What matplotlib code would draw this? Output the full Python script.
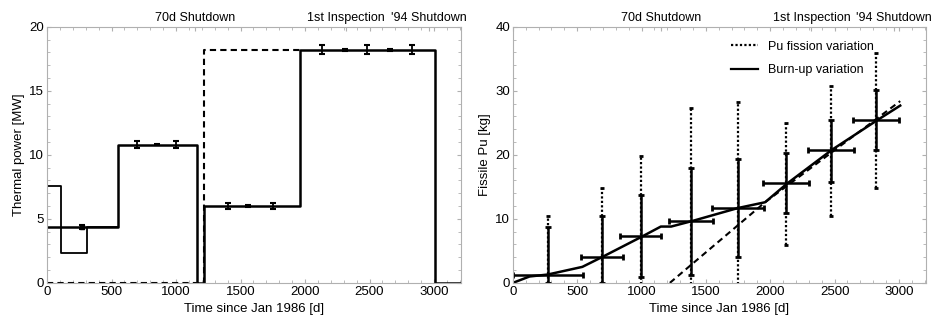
import numpy as np
import matplotlib
matplotlib.use("Agg")
import matplotlib.pyplot as plt
from matplotlib.lines import Line2D

plt.rcParams['font.family'] = ['Liberation Sans', 'DejaVu Sans']
plt.rcParams['font.size'] = 9

# left panel: thermal power history
power_x = [0, 550, 1160, 1220, 1960, 3010, 3200]
power_y = [4.4, 10.8, 0, 6.0, 18.2, 0, 0]
early_x = [0, 110, 310, 550]
early_y = [7.6, 2.3, 4.4, 4.4]
alt_x = [0, 1220, 1960]
alt_y = [0, 18.2, 18.2]

perr_x = [270, 700, 850, 1000, 1400, 1560, 1750, 2130, 2310, 2480, 2660, 2830]
perr_y = [4.35, 10.8, 10.8, 10.8, 6.0, 6.0, 6.0, 18.2, 18.2, 18.2, 18.2, 18.2]
perr_e = [0.15, 0.3, 0.05, 0.3, 0.25, 0.05, 0.25, 0.35, 0.05, 0.35, 0.05, 0.35]

# right panel: fissile Pu
burnup_x = [0, 130, 270, 540, 700, 1000, 1150, 1230, 1400, 1750, 1960, 2130, 2480, 2830, 3010]
burnup_y = [0, 1.0, 1.3, 2.5, 4.1, 7.2, 8.8, 8.8, 9.7, 11.7, 12.6, 15.5, 20.8, 25.4, 27.7]
fission_x = [1220, 1960, 3010]
fission_y = [0, 12.6, 28.4]

pu_x = [270, 692, 995, 1385, 1748, 2122, 2472, 2820]
pu_y = [1.25, 4.1, 7.25, 9.7, 11.7, 15.6, 20.8, 25.5]
pu_xlo = [0, 530, 835, 1215, 1545, 1945, 2295, 2640]
pu_xhi = [545, 855, 1155, 1555, 1950, 2300, 2650, 3000]
pu_ylo = [0, 0, 0.9, 1.2, 4.1, 10.9, 15.8, 20.7]
pu_yhi = [8.8, 10.4, 13.7, 17.9, 19.3, 20.3, 25.5, 30.2]
fis_ylo = [0, 0, -3, -3, -3, 5.9, 10.4, 14.9]
fis_yhi = [10.5, 14.8, 19.8, 27.3, 28.2, 25.0, 30.8, 35.9]

events_x = [1150, 2320, 2960]
events = ["70d Shutdown", "1st Inspection", "'94 Shutdown"]

fig = plt.figure(figsize=(9.41, 3.2), dpi=100)
ax1 = fig.add_axes([0.050, 0.116, 0.440, 0.800])
ax2 = fig.add_axes([0.545, 0.116, 0.439, 0.800])


def style(ax, ymax, ymin_step):
    ax.set_xlim(0, 3210)
    ax.set_ylim(0, ymax)
    ax.set_xticks([0, 500, 1000, 1500, 2000, 2500, 3000])
    ax.set_yticks(np.arange(0, ymax + 1, ymax / 4))
    ax.set_yticks(np.arange(0, ymax, ymin_step), minor=True)
    ax.set_xticks(np.arange(0, 3201, 100), minor=True)
    for s in ax.spines.values():
        s.set_color('#b0b0b0')
        s.set_linewidth(0.8)
    ax.tick_params(which='both', direction='in', top=True, right=True,
                   color='#b0b0b0', labelsize=9.5, pad=2)
    ax.tick_params(which='major', length=3)
    ax.tick_params(which='minor', length=2)
    ax.set_xlabel("Time since Jan 1986 [d]", fontsize=9.5, labelpad=4)
    top = ax.secondary_xaxis('top')
    top.set_xticks(events_x, events)
    top.tick_params(direction='in', length=3, color='#b0b0b0', labelsize=9, pad=2)
    top.spines['top'].set_visible(False)


# left
ax1.step(alt_x, alt_y, where='post', color='black', lw=1.5, ls=(0, (3, 2)))
ax1.step(early_x, early_y, where='post', color='black', lw=1.3)
ax1.step(power_x, power_y, where='post', color='black', lw=1.8)
ax1.errorbar(perr_x, perr_y, yerr=perr_e, fmt='none', ecolor='black',
             elinewidth=1.3, capsize=2.5, capthick=1.5)
ax1.plot([perr_x[0]], [perr_y[0]], 's', color='black', ms=3)
style(ax1, 20, 1)
ax1.set_ylabel("Thermal power [MW]", fontsize=9.5, labelpad=3)

# right
ax2.plot(fission_x, fission_y, color='black', lw=1.5, ls=(0, (3, 2)))
ax2.plot(burnup_x, burnup_y, color='black', lw=1.8)
pu_x = np.array(pu_x)
pu_y = np.array(pu_y)
fis = ax2.errorbar(pu_x, pu_y,
                   yerr=[pu_y - np.array(fis_ylo), np.array(fis_yhi) - pu_y],
                   fmt='none', ecolor='black', elinewidth=1.6,
                   capsize=1.5, capthick=2)
for lc in fis[2]:
    lc.set_linestyle((0, (1, 1)))
ax2.errorbar(pu_x, pu_y,
             yerr=[pu_y - np.array(pu_ylo), np.array(pu_yhi) - pu_y],
             xerr=[pu_x - np.array(pu_xlo), np.array(pu_xhi) - pu_x],
             fmt='none', ecolor='black', elinewidth=1.8,
             capsize=2, capthick=2)
style(ax2, 40, 2)
ax2.set_ylabel("Fissile Pu [kg]", fontsize=9.5, labelpad=3)

handles = [Line2D([], [], color='black', ls=(0, (1, 1)), lw=1.6),
           Line2D([], [], color='black', lw=1.6)]
ax2.legend(handles, ["Pu fission variation", "Burn-up variation"],
           loc='upper left', bbox_to_anchor=(0.5, 0.99), frameon=False,
           fontsize=9, handlelength=2.2, labelspacing=0.9)

fig.savefig("out.png", dpi=100)
